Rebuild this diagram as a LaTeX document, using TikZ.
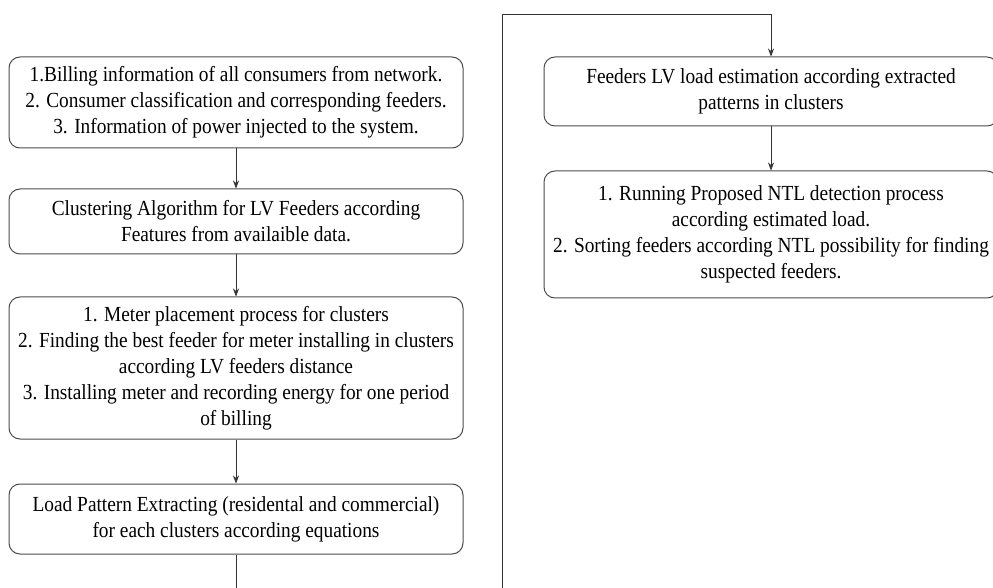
\documentclass[tikz,border=0pt]{standalone}
\usepackage{fontspec}
\setmainfont{Liberation Serif}[FakeStretch=0.9]
\usetikzlibrary{arrows.meta,positioning}

\begin{document}
\begin{tikzpicture}[x=1pt,y=1pt,->,>={Stealth[length=8pt,width=6pt]},
    semithick,draw=black!80,node distance=40pt,
    box/.style={draw=black!70,line width=1pt,rounded corners=11pt,
      align=center,minimum width=454pt,inner sep=2pt,
      font=\fontsize{21.5pt}{26pt}\selectfont}]
    \useasboundingbox (0,0) rectangle (993,587);
    \clip (0,0) rectangle (993,587);
    % left column
    \node[box,minimum height=91pt] (data) at (236,484.5)
      {1.Billing information of all consumers from network.\\
       2. Consumer classification and corresponding feeders.\\
       3. Information of power injected to the system.};
    \node[box,minimum height=65pt] (cluster) [below=40pt of data]
      {Clustering Algorithm for LV Feeders according\\
       Features from availaible data.};
    \node[box,minimum height=142pt] (meter) [below=42pt of cluster]
      {1. Meter placement process for clusters\\
       2. Finding the best feeder for meter installing in clusters\\
       according LV feeders distance\\
       3. Installing meter and recording energy for one period\\
       of billing};
    \node[box,minimum height=70pt] (pattern) [below=44pt of meter]
      {Load Pattern Extracting (residental and commercial)\\
       for each clusters according equations};
    % right column
    \node[box,minimum height=69pt] (estimate) at (771,495.5)
      {Feeders LV load estimation according extracted\\
       patterns in clusters};
    \node[box,minimum height=127pt] (detect) [below=44pt of estimate]
      {1. Running Proposed NTL detection process\\
       according estimated load.\\
       2. Sorting feeders according NTL possibility for finding\\
       suspected feeders.};
    \coordinate (low) at (502,-15);
    \coordinate (high) at (502,573);
    \path (data) edge (cluster)
      (cluster) edge (meter)
      (meter) edge (pattern)
      (estimate) edge (detect);
    \draw (pattern.south) |- (low) -- (high) -| (estimate.north);
\end{tikzpicture}
\end{document}
